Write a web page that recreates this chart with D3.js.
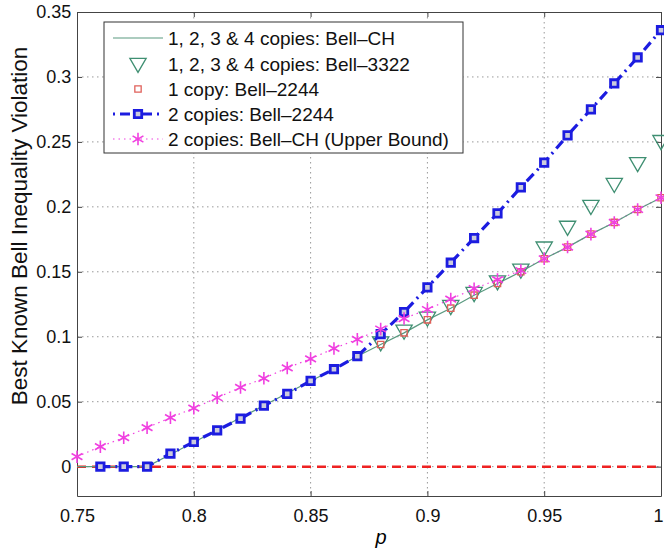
<!DOCTYPE html>
<html>
<head>
<meta charset="utf-8">
<script src="https://cdn.jsdelivr.net/npm/d3@7"></script>
<style>
  body { margin: 0; background: #fff; }
  svg { font-family: "Liberation Sans", Arial, sans-serif; }
</style>
</head>
<body>
<svg id="chart" width="664" height="550"></svg>
<script>
// p values 0.75 .. 1.00
var pValues = [0.75, 0.76, 0.77, 0.78, 0.79, 0.80, 0.81, 0.82, 0.83, 0.84, 0.85, 0.86, 0.87,
  0.88, 0.89, 0.90, 0.91, 0.92, 0.93, 0.94, 0.95, 0.96, 0.97, 0.98, 0.99, 1.00];

// 1, 2, 3 & 4 copies: Bell-CH
var bellCH = [0, 0, 0, 0, 0.0094, 0.0188, 0.0282, 0.0376, 0.047, 0.0565, 0.066, 0.075, 0.085,
  0.094, 0.103, 0.113, 0.122, 0.132, 0.141, 0.150, 0.160, 0.169, 0.179, 0.188, 0.198, 0.207];

// 1, 2, 3 & 4 copies: Bell-3322 (from p = 0.88)
var p3322 = [0.88, 0.89, 0.90, 0.91, 0.92, 0.93, 0.94, 0.95, 0.96, 0.97, 0.98, 0.99, 1.00];
var bell3322 = [0.094, 0.103, 0.113, 0.122, 0.132, 0.141, 0.150, 0.167, 0.183, 0.199, 0.216, 0.232, 0.249];

// 1 copy: Bell-2244
var p2244one = [0.88, 0.89, 0.90, 0.91, 0.92, 0.93, 0.94, 0.95, 0.96, 0.97, 0.98, 0.99, 1.00];
var bell2244one = [0.094, 0.103, 0.113, 0.122, 0.132, 0.141, 0.150, 0.160, 0.169, 0.179, 0.188, 0.198, 0.207];

// 2 copies: Bell-2244 (from p = 0.76)
var p2244two = [0.76, 0.77, 0.78, 0.79, 0.80, 0.81, 0.82, 0.83, 0.84, 0.85, 0.86, 0.87,
  0.88, 0.89, 0.90, 0.91, 0.92, 0.93, 0.94, 0.95, 0.96, 0.97, 0.98, 0.99, 1.00];
var bell2244two = [0, 0, 0, 0.010, 0.019, 0.028, 0.037, 0.047, 0.056, 0.066, 0.075, 0.085,
  0.102, 0.119, 0.138, 0.157, 0.176, 0.195, 0.215, 0.234, 0.255, 0.275, 0.295, 0.315, 0.336];

// 2 copies: Bell-CH (upper bound)
var bellCHUpper = [0.0077, 0.0154, 0.0223, 0.030, 0.0377, 0.045, 0.053, 0.061, 0.068, 0.076, 0.083, 0.091, 0.098,
  0.106, 0.114, 0.121, 0.129, 0.137, 0.144, 0.151, 0.160, 0.169, 0.179, 0.188, 0.198, 0.207];

var xTicks = [0.75, 0.8, 0.85, 0.9, 0.95, 1];
var yTicks = [0, 0.05, 0.1, 0.15, 0.2, 0.25, 0.3, 0.35];

var legendLabels = [
  '1, 2, 3 & 4 copies: Bell\u2013CH',
  '1, 2, 3 & 4 copies: Bell\u20133322',
  '1 copy: Bell\u20132244',
  '2 copies: Bell\u20132244',
  '2 copies: Bell\u2013CH (Upper Bound)'
];

(function () {
  'use strict';

  var colors = {
    ch: '#5a9a80',
    tri: '#3f8f72',
    red: '#e0605a',
    blue: '#1c1ce0',
    mag: '#f040e0',
    zero: '#ee2222'
  };

  var svg = d3.select('#chart');
  var mLeft = 77, mRight = 661, mTop = 12, mBottom = 496;

  var x = d3.scaleLinear().domain([0.75, 1]).range([mLeft, mRight]);
  var y = d3.scaleLinear().domain([-0.0226, 0.35]).range([mBottom, mTop]);

  // grid
  var grid = svg.append('g');
  grid.selectAll('.gx').data(xTicks.slice(1, -1)).enter().append('line')
    .attr('x1', function(d) { return x(d); }).attr('x2', function(d) { return x(d); })
    .attr('y1', mTop).attr('y2', mBottom)
    .attr('stroke', '#999').attr('stroke-dasharray', '1.5,3.5');
  grid.selectAll('.gy').data(yTicks.slice(0, -1)).enter().append('line')
    .attr('y1', function(d) { return y(d); }).attr('y2', function(d) { return y(d); })
    .attr('x1', mLeft).attr('x2', mRight)
    .attr('stroke', '#999').attr('stroke-dasharray', '1.5,3.5');

  // axes, box style with inward ticks
  var fmt = function(d) { return d3.format('')(d); };
  var xAxis = svg.append('g').attr('transform', 'translate(0,' + mBottom + ')')
    .call(d3.axisBottom(x).tickValues(xTicks).tickSizeInner(-5).tickSizeOuter(0).tickFormat(fmt));
  var xAxisTop = svg.append('g').attr('transform', 'translate(0,' + mTop + ')')
    .call(d3.axisTop(x).tickValues(xTicks).tickSizeInner(-5).tickSizeOuter(0).tickFormat(''));
  var yAxis = svg.append('g').attr('transform', 'translate(' + mLeft + ',0)')
    .call(d3.axisLeft(y).tickValues(yTicks).tickSizeInner(-5).tickSizeOuter(0).tickFormat(fmt));
  var yAxisRight = svg.append('g').attr('transform', 'translate(' + mRight + ',0)')
    .call(d3.axisRight(y).tickValues(yTicks).tickSizeInner(-5).tickSizeOuter(0).tickFormat(''));

  [xAxis, xAxisTop, yAxis, yAxisRight].forEach(function(g) {
    g.select('.domain').attr('stroke', '#444');
    g.selectAll('.tick line').attr('stroke', '#444');
    g.selectAll('.tick text').attr('fill', '#111').style('font-size', '18px');
  });
  xAxis.selectAll('.tick text').attr('dy', '1.3em');
  // keep the last label inside the picture
  xAxis.selectAll('.tick text').filter(function(d) { return d === 1; }).attr('dx', '-3');
  yAxis.selectAll('.tick text').attr('dx', '-0.15em');

  // axis titles
  svg.append('text').attr('x', (mLeft + mRight) / 2 + 12).attr('y', 544)
    .attr('text-anchor', 'middle').style('font-size', '20px').style('font-style', 'italic')
    .text('p');
  svg.append('text').attr('transform', 'translate(27,226) rotate(-90)')
    .attr('text-anchor', 'middle').style('font-size', '22.5px').attr('fill', '#111')
    .text('Best Known Bell Inequality Violation');

  var plot = svg.append('g');

  // zero line
  plot.append('line').attr('x1', x(0.75)).attr('x2', x(1)).attr('y1', y(0)).attr('y2', y(0))
    .attr('stroke', colors.zero).attr('stroke-width', 2.5).attr('stroke-dasharray', '9,6');

  var line = d3.line().x(function(d) { return x(d[0]); }).y(function(d) { return y(d[1]); });

  // upper bound dotted line
  var upper = d3.zip(pValues, bellCHUpper);
  plot.append('path').datum(upper).attr('d', line).attr('fill', 'none')
    .attr('stroke', colors.mag).attr('stroke-width', 1.2).attr('stroke-dasharray', '1.5,4');

  // Bell-CH solid line
  var ch = d3.zip(pValues, bellCH);
  plot.append('path').datum(ch).attr('d', line).attr('fill', 'none')
    .attr('stroke', colors.ch).attr('stroke-width', 1.2);

  // 2 copies Bell-2244 dash-dot line
  var two = d3.zip(p2244two, bell2244two);
  plot.append('path').datum(two).attr('d', line).attr('fill', 'none')
    .attr('stroke', colors.blue).attr('stroke-width', 3.2).attr('stroke-dasharray', '10,5,2,5');

  var tri = d3.symbol().type(d3.symbolTriangle).size(115);
  var sq = d3.symbol().type(d3.symbolSquare).size(40);
  var sqBlue = d3.symbol().type(d3.symbolSquare).size(55);
  var star = d3.symbol().type(d3.symbolAsterisk).size(110);

  function drawTri(g, px, py) {
    g.append('path').attr('d', tri)
      .attr('transform', 'translate(' + px + ',' + (py - 3) + ') rotate(180)')
      .attr('fill', 'none').attr('stroke', colors.tri).attr('stroke-width', 1.3);
  }
  function drawRed(g, px, py) {
    g.append('path').attr('d', sq).attr('transform', 'translate(' + px + ',' + py + ')')
      .attr('fill', 'none').attr('stroke', colors.red).attr('stroke-width', 1.3);
  }
  function drawBlue(g, px, py) {
    g.append('path').attr('d', sqBlue).attr('transform', 'translate(' + px + ',' + py + ')')
      .attr('fill', '#ccd').attr('stroke', colors.blue).attr('stroke-width', 2.8);
  }
  function drawStar(g, px, py) {
    g.append('path').attr('d', star).attr('transform', 'translate(' + px + ',' + py + ')')
      .attr('fill', 'none').attr('stroke', colors.mag).attr('stroke-width', 1.6);
  }

  d3.zip(p3322, bell3322).forEach(function(d) { drawTri(plot, x(d[0]), y(d[1])); });
  d3.zip(p2244one, bell2244one).forEach(function(d) { drawRed(plot, x(d[0]), y(d[1])); });
  two.forEach(function(d) { drawBlue(plot, x(d[0]), y(d[1])); });
  upper.forEach(function(d) { drawStar(plot, x(d[0]), y(d[1])); });

  // legend
  var lg = svg.append('g');
  lg.append('rect').attr('x', 104).attr('y', 22).attr('width', 359).attr('height', 131)
    .attr('fill', '#fff').attr('stroke', '#333').attr('stroke-width', 1);
  var rowY = [38, 64, 89, 114, 139];
  legendLabels.forEach(function(label, i) {
    lg.append('text').attr('x', 168).attr('y', rowY[i]).attr('dy', '0.36em')
      .style('font-size', '19px').attr('fill', '#111').text(label);
  });
  lg.append('line').attr('x1', 113).attr('x2', 163).attr('y1', rowY[0]).attr('y2', rowY[0])
    .attr('stroke', colors.ch).attr('stroke-width', 1.2);
  drawTri(lg, 138, rowY[1] + 2);
  drawRed(lg, 138, rowY[2]);
  lg.append('line').attr('x1', 113).attr('x2', 163).attr('y1', rowY[3]).attr('y2', rowY[3])
    .attr('stroke', colors.blue).attr('stroke-width', 3).attr('stroke-dasharray', '2,5,10,5');
  drawBlue(lg, 138, rowY[3]);
  lg.append('line').attr('x1', 113).attr('x2', 163).attr('y1', rowY[4]).attr('y2', rowY[4])
    .attr('stroke', colors.mag).attr('stroke-width', 1.2).attr('stroke-dasharray', '1.5,4');
  drawStar(lg, 138, rowY[4]);
}());
</script>
</body>
</html>
